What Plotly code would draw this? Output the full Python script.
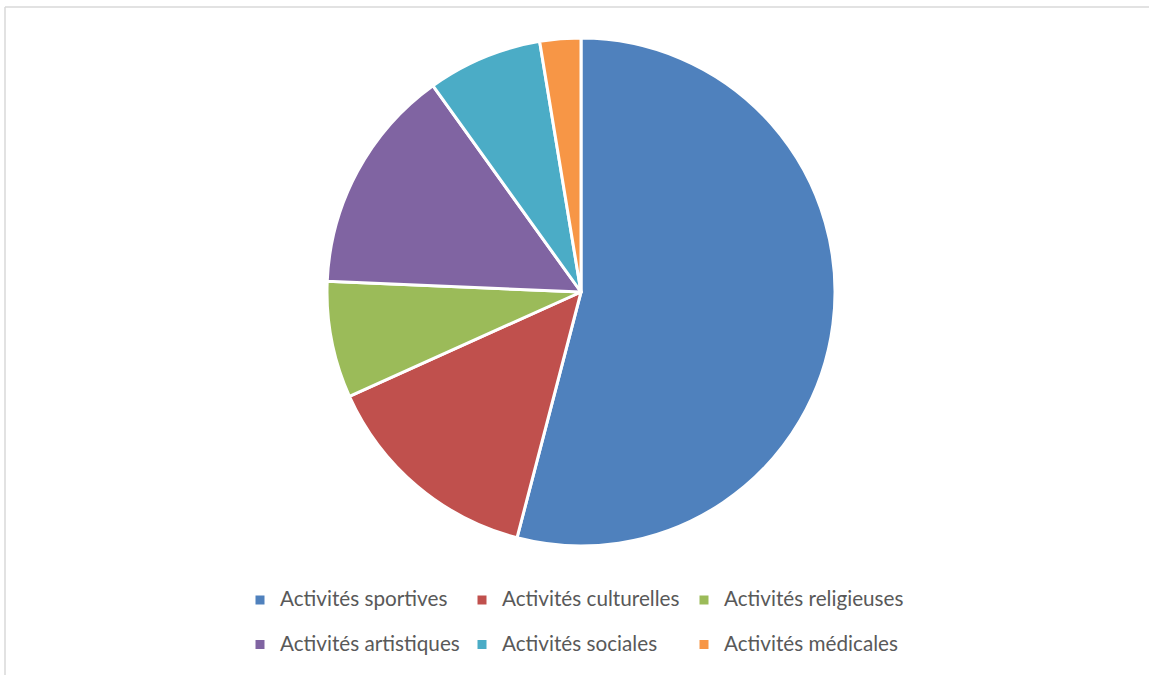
import plotly.graph_objects as go

categories = ["Activités sportives", "Activités culturelles", "Activités religieuses",
              "Activités artistiques", "Activités sociales", "Activités médicales"]
values = [54.0, 14.2, 7.4, 14.4, 7.3, 2.6]
colors = ["#4F81BD", "#C0504D", "#9BBB59", "#8064A2", "#4BACC6", "#F79646"]

W, H = 1149, 675
ML, MR = 175, 174
GW = W - ML - MR

def px(x):
    return (x - ML) / GW

def py(y):
    return 1 - y / H

# legend text drawn larger than the legend base font so rows get Excel-like spacing
legend_labels = []
for i, c in enumerate(categories):
    lab = '<span style="font-size:20.7px">' + c + '</span>'
    if i < 3:
        lab += "<br> "
    legend_labels.append(lab)

fig = go.Figure(go.Pie(
    labels=legend_labels,
    values=values,
    customdata=categories,
    hovertemplate="%{customdata}: %{value}<extra></extra>",
    sort=False,
    direction="clockwise",
    rotation=0,
    textinfo="none",
    marker=dict(colors=colors, line=dict(color="white", width=3)),
    domain=dict(x=[px(327), px(835)], y=[py(546), py(38)]),
))

fig.add_shape(type="line", xref="paper", yref="paper",
              x0=px(5), x1=px(1160), y0=py(7), y1=py(7),
              line=dict(color="#D9D9D9", width=1.5))
fig.add_shape(type="line", xref="paper", yref="paper",
              x0=px(5), x1=px(5), y0=py(7), y1=py(690),
              line=dict(color="#D9D9D9", width=1.5))

fig.update_layout(
    width=W, height=H,
    margin=dict(l=ML, r=MR, t=0, b=0, autoexpand=False),
    paper_bgcolor="white", plot_bgcolor="white",
    font=dict(family="Lato", color="#595959", size=16),
    legend=dict(
        orientation="h", x=px(240), xanchor="left",
        y=py(583), yanchor="top",
        entrywidth=177, valign="top",
        font=dict(family="Lato", size=16, color="#595959"),
    ),
)

fig.write_html("out.html", config={"displayModeBar": False},
               post_script="document.body.style.margin='0';")
